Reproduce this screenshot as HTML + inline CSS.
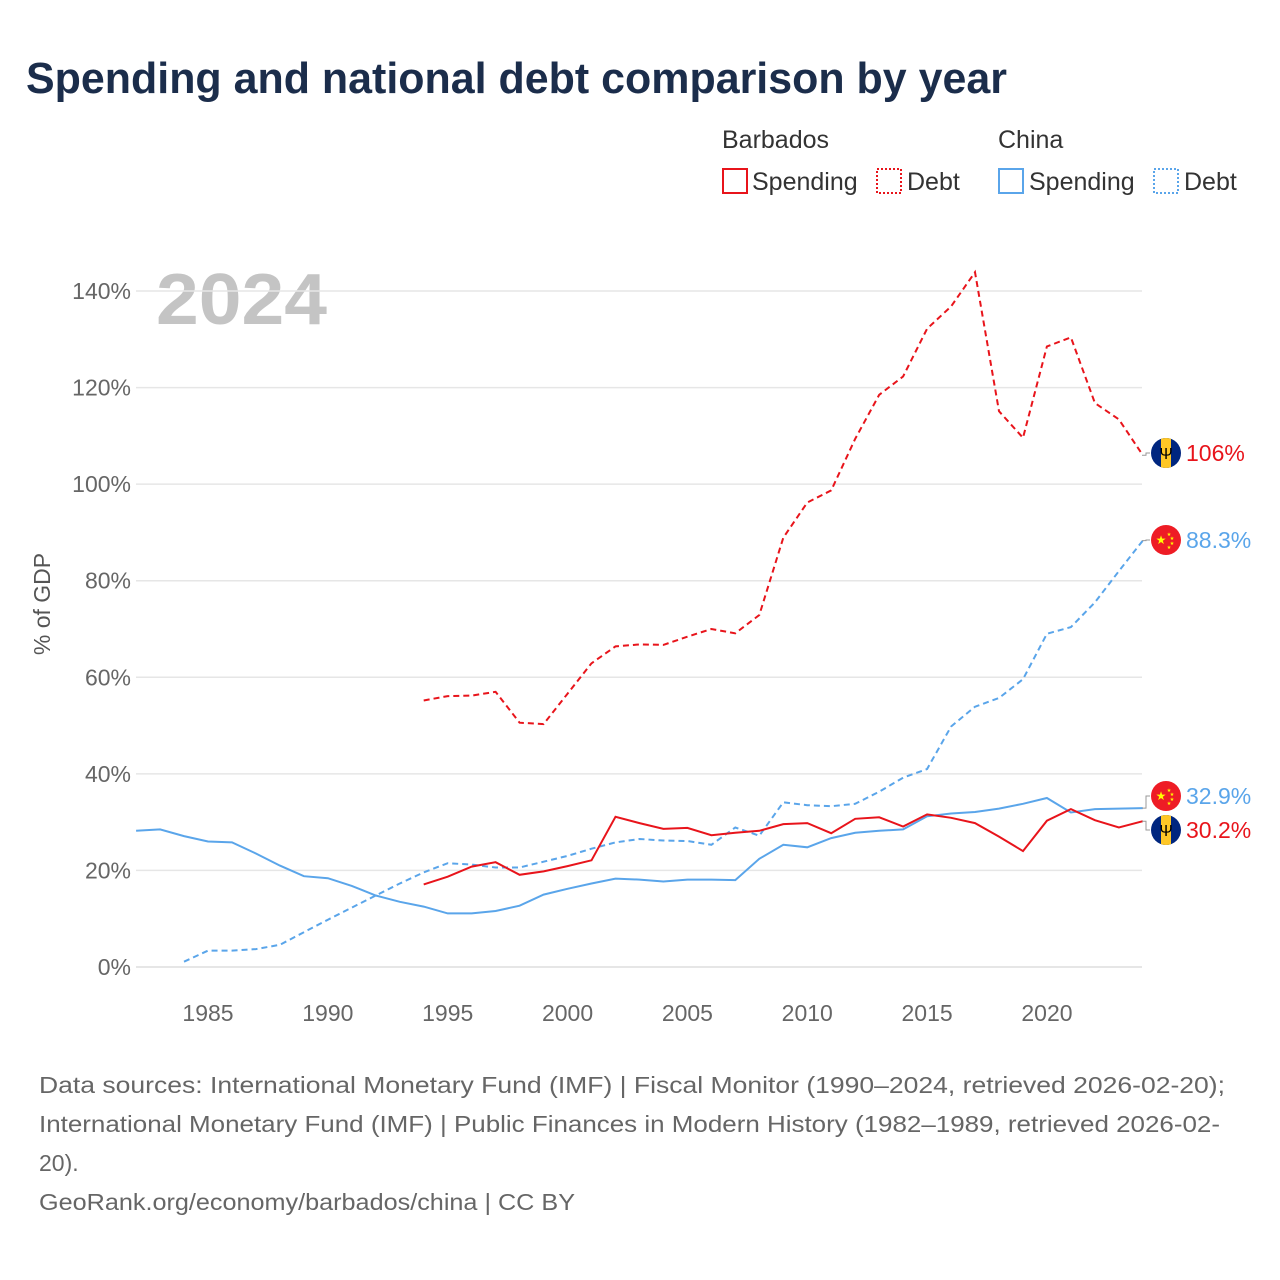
<!DOCTYPE html>
<html><head><meta charset="utf-8"><style>
body{margin:0;background:#fff;font-family:"Liberation Sans",sans-serif;}
#wrap{position:relative;width:1280px;height:1280px;overflow:hidden}
</style></head><body><div id="wrap">
<svg id="svg" width="1280" height="1280" xmlns="http://www.w3.org/2000/svg">
<text x="26" y="93" font-size="44" font-weight="bold" fill="#1b2d4b" textLength="981" lengthAdjust="spacingAndGlyphs">Spending and national debt comparison by year</text>
<g font-size="25" fill="#333">
<text x="722" y="148">Barbados</text>
<text x="998" y="148">China</text>
<g><rect x="723" y="169" width="24" height="24" fill="none" stroke="#e8141b" stroke-width="2"/><text x="752" y="190">Spending</text></g>
<g><rect x="877" y="169" width="24" height="24" fill="none" stroke="#e8141b" stroke-width="2" stroke-dasharray="2,2"/><text x="907" y="190">Debt</text></g>
<g><rect x="999" y="169" width="24" height="24" fill="none" stroke="#5aa5ea" stroke-width="2"/><text x="1029" y="190">Spending</text></g>
<g><rect x="1154" y="169" width="24" height="24" fill="none" stroke="#5aa5ea" stroke-width="2" stroke-dasharray="2,2"/><text x="1184" y="190">Debt</text></g>
</g>
<text x="156" y="324" font-size="72" font-weight="bold" fill="#c4c4c4" textLength="171" lengthAdjust="spacingAndGlyphs">2024</text>
<text transform="translate(50,604) rotate(-90)" text-anchor="middle" font-size="23" fill="#555">% of GDP</text>
<g id="grid"></g><g id="series"></g><g id="ends"></g>
<g font-size="23" fill="#666">
<text x="39" y="1093" textLength="1186" lengthAdjust="spacingAndGlyphs">Data sources: International Monetary Fund (IMF) | Fiscal Monitor (1990–2024, retrieved 2026-02-20);</text>
<text x="39" y="1132" textLength="1181" lengthAdjust="spacingAndGlyphs">International Monetary Fund (IMF) | Public Finances in Modern History (1982–1989, retrieved 2026-02-</text>
<text x="39" y="1171">20).</text>
<text x="39" y="1210" textLength="536" lengthAdjust="spacingAndGlyphs">GeoRank.org/economy/barbados/china | CC BY</text>
</g>
</svg></div>
<script>
const yTicks=[0,20,40,60,80,100,120,140];
const xTicks=[1985,1990,1995,2000,2005,2010,2015,2020];
const chinaSpendStart=1982;
const chinaSpend=[28.2,28.5,27.1,26.0,25.8,23.5,21.0,18.8,18.4,16.8,14.8,13.5,12.5,11.1,11.1,11.6,12.7,15.0,16.2,17.3,18.3,18.1,17.7,18.1,18.1,18.0,22.4,25.3,24.8,26.7,27.8,28.2,28.5,31.2,31.8,32.1,32.8,33.8,35.0,32.0,32.7,32.8,32.9];
const chinaDebtStart=1984;
const chinaDebt=[1.1,3.4,3.4,3.7,4.6,7.2,9.8,12.3,14.8,17.3,19.6,21.5,21.2,20.6,20.6,21.8,23.0,24.5,25.8,26.5,26.2,26.1,25.3,28.9,27.2,34.1,33.5,33.3,33.8,36.3,39.2,41.0,49.8,53.9,55.7,59.6,69.0,70.4,75.5,82.0,88.3];
const barbSpendStart=1994;
const barbSpend=[17.1,18.7,20.8,21.7,19.1,19.8,20.9,22.1,31.1,29.8,28.6,28.8,27.3,27.8,28.2,29.6,29.8,27.7,30.7,31.0,29.1,31.6,30.9,29.8,27.0,24.0,30.3,32.7,30.4,28.9,30.2];
const barbDebtStart=1994;
const barbDebt=[55.2,56.1,56.2,57.0,50.6,50.3,56.6,62.9,66.4,66.8,66.7,68.4,70.0,69.1,72.9,88.9,96.2,98.7,109.4,118.5,122.3,132.2,136.8,143.9,115.1,109.6,128.5,130.4,116.8,113.4,106.0];
const NS="http://www.w3.org/2000/svg";
const X=yr=>208+(yr-1985)*23.97;
const Y=v=>967-v*4.8286;
function mk(tag,at,parent){const e=document.createElementNS(NS,tag);for(const k in at)e.setAttribute(k,at[k]);parent.appendChild(e);return e;}
const grid=document.getElementById('grid');
yTicks.forEach(t=>{
 const l=mk('line',{x1:136,x2:1142,y1:Y(t),y2:Y(t),stroke:t===0?'#ddd':'#e6e6e6','stroke-width':1.5},grid);
 
 
 const tx=mk('text',{x:131,y:Y(t)+8,'text-anchor':'end','font-size':23,fill:'#666'},grid);
 tx.textContent=t+'%';
 
 
});
xTicks.forEach(t=>{
 const tx=mk('text',{x:X(t),y:1021,'text-anchor':'middle','font-size':23,fill:'#666'},grid);
 tx.textContent=t;
 
 
});
const sg=document.getElementById('series');
function line(vals,start,color,dash,name){
 const d=vals.map((v,i)=>(i?'L':'M')+X(start+i).toFixed(1)+','+Y(v).toFixed(1)).join('');
 const p=mk('path',{d:d,fill:'none',stroke:color,'stroke-width':2,'stroke-dasharray':dash?'6,4':'none'},sg);
 
 
}
line(chinaSpend,chinaSpendStart,'#5aa5ea',false,'line-china-spending');
line(chinaDebt,chinaDebtStart,'#5aa5ea',true,'line-china-debt');
line(barbSpend,barbSpendStart,'#e8141b',false,'line-barbados-spending');
line(barbDebt,barbDebtStart,'#e8141b',true,'line-barbados-debt');
const eg=document.getElementById('ends');
function flag(cy,country,g){
 const cx=1166;
 const cp='cp'+country+Math.round(cy);
 const c=mk('clipPath',{id:cp},g);mk('circle',{cx:cx,cy:cy,r:15},c);
 const f=mk('g',{'clip-path':'url(#'+cp+')'},g);
 if(country==='bb'){
  mk('rect',{x:cx-15,y:cy-15,width:30,height:30,fill:'#00267f'},f);
  mk('rect',{x:cx-5,y:cy-15,width:10,height:30,fill:'#ffc726'},f);
  const t=mk('text',{x:cx,y:cy+6,'text-anchor':'middle','font-size':16,fill:'#000'},f);t.textContent='Ψ';
 }else{
  mk('rect',{x:cx-15,y:cy-15,width:30,height:30,fill:'#ee1c25'},f);
  const t=mk('text',{x:cx-5,y:cy+4,'text-anchor':'middle','font-size':12,fill:'#ffff00'},f);t.textContent='★';
  [[3,-6],[6,-2],[6,3],[3,7]].forEach(o=>{const s=mk('text',{x:cx+o[0],y:cy+o[1]+2,'text-anchor':'middle','font-size':5,fill:'#ffff00'},f);s.textContent='★';});
 }
}
function end(val,labelY,color,country,txt,name){
 const g=mk('g',{},eg);
 
 
 mk('path',{d:'M1142,'+Y(val).toFixed(1)+'H1146V'+labelY+'H1150',fill:'none',stroke:'#999','stroke-width':1},g);
 flag(labelY,country,g);
 const t=mk('text',{x:1186,y:labelY+8,'font-size':23,fill:color},g);t.textContent=txt;
}
end(barbDebt[barbDebt.length-1],453,'#e8141b','bb','106%','end-label-barbados-debt');
end(chinaDebt[chinaDebt.length-1],540,'#5aa5ea','cn','88.3%','end-label-china-debt');
end(chinaSpend[chinaSpend.length-1],796,'#5aa5ea','cn','32.9%','end-label-china-spending');
end(barbSpend[barbSpend.length-1],830,'#e8141b','bb','30.2%','end-label-barbados-spending');
</script></body></html>
